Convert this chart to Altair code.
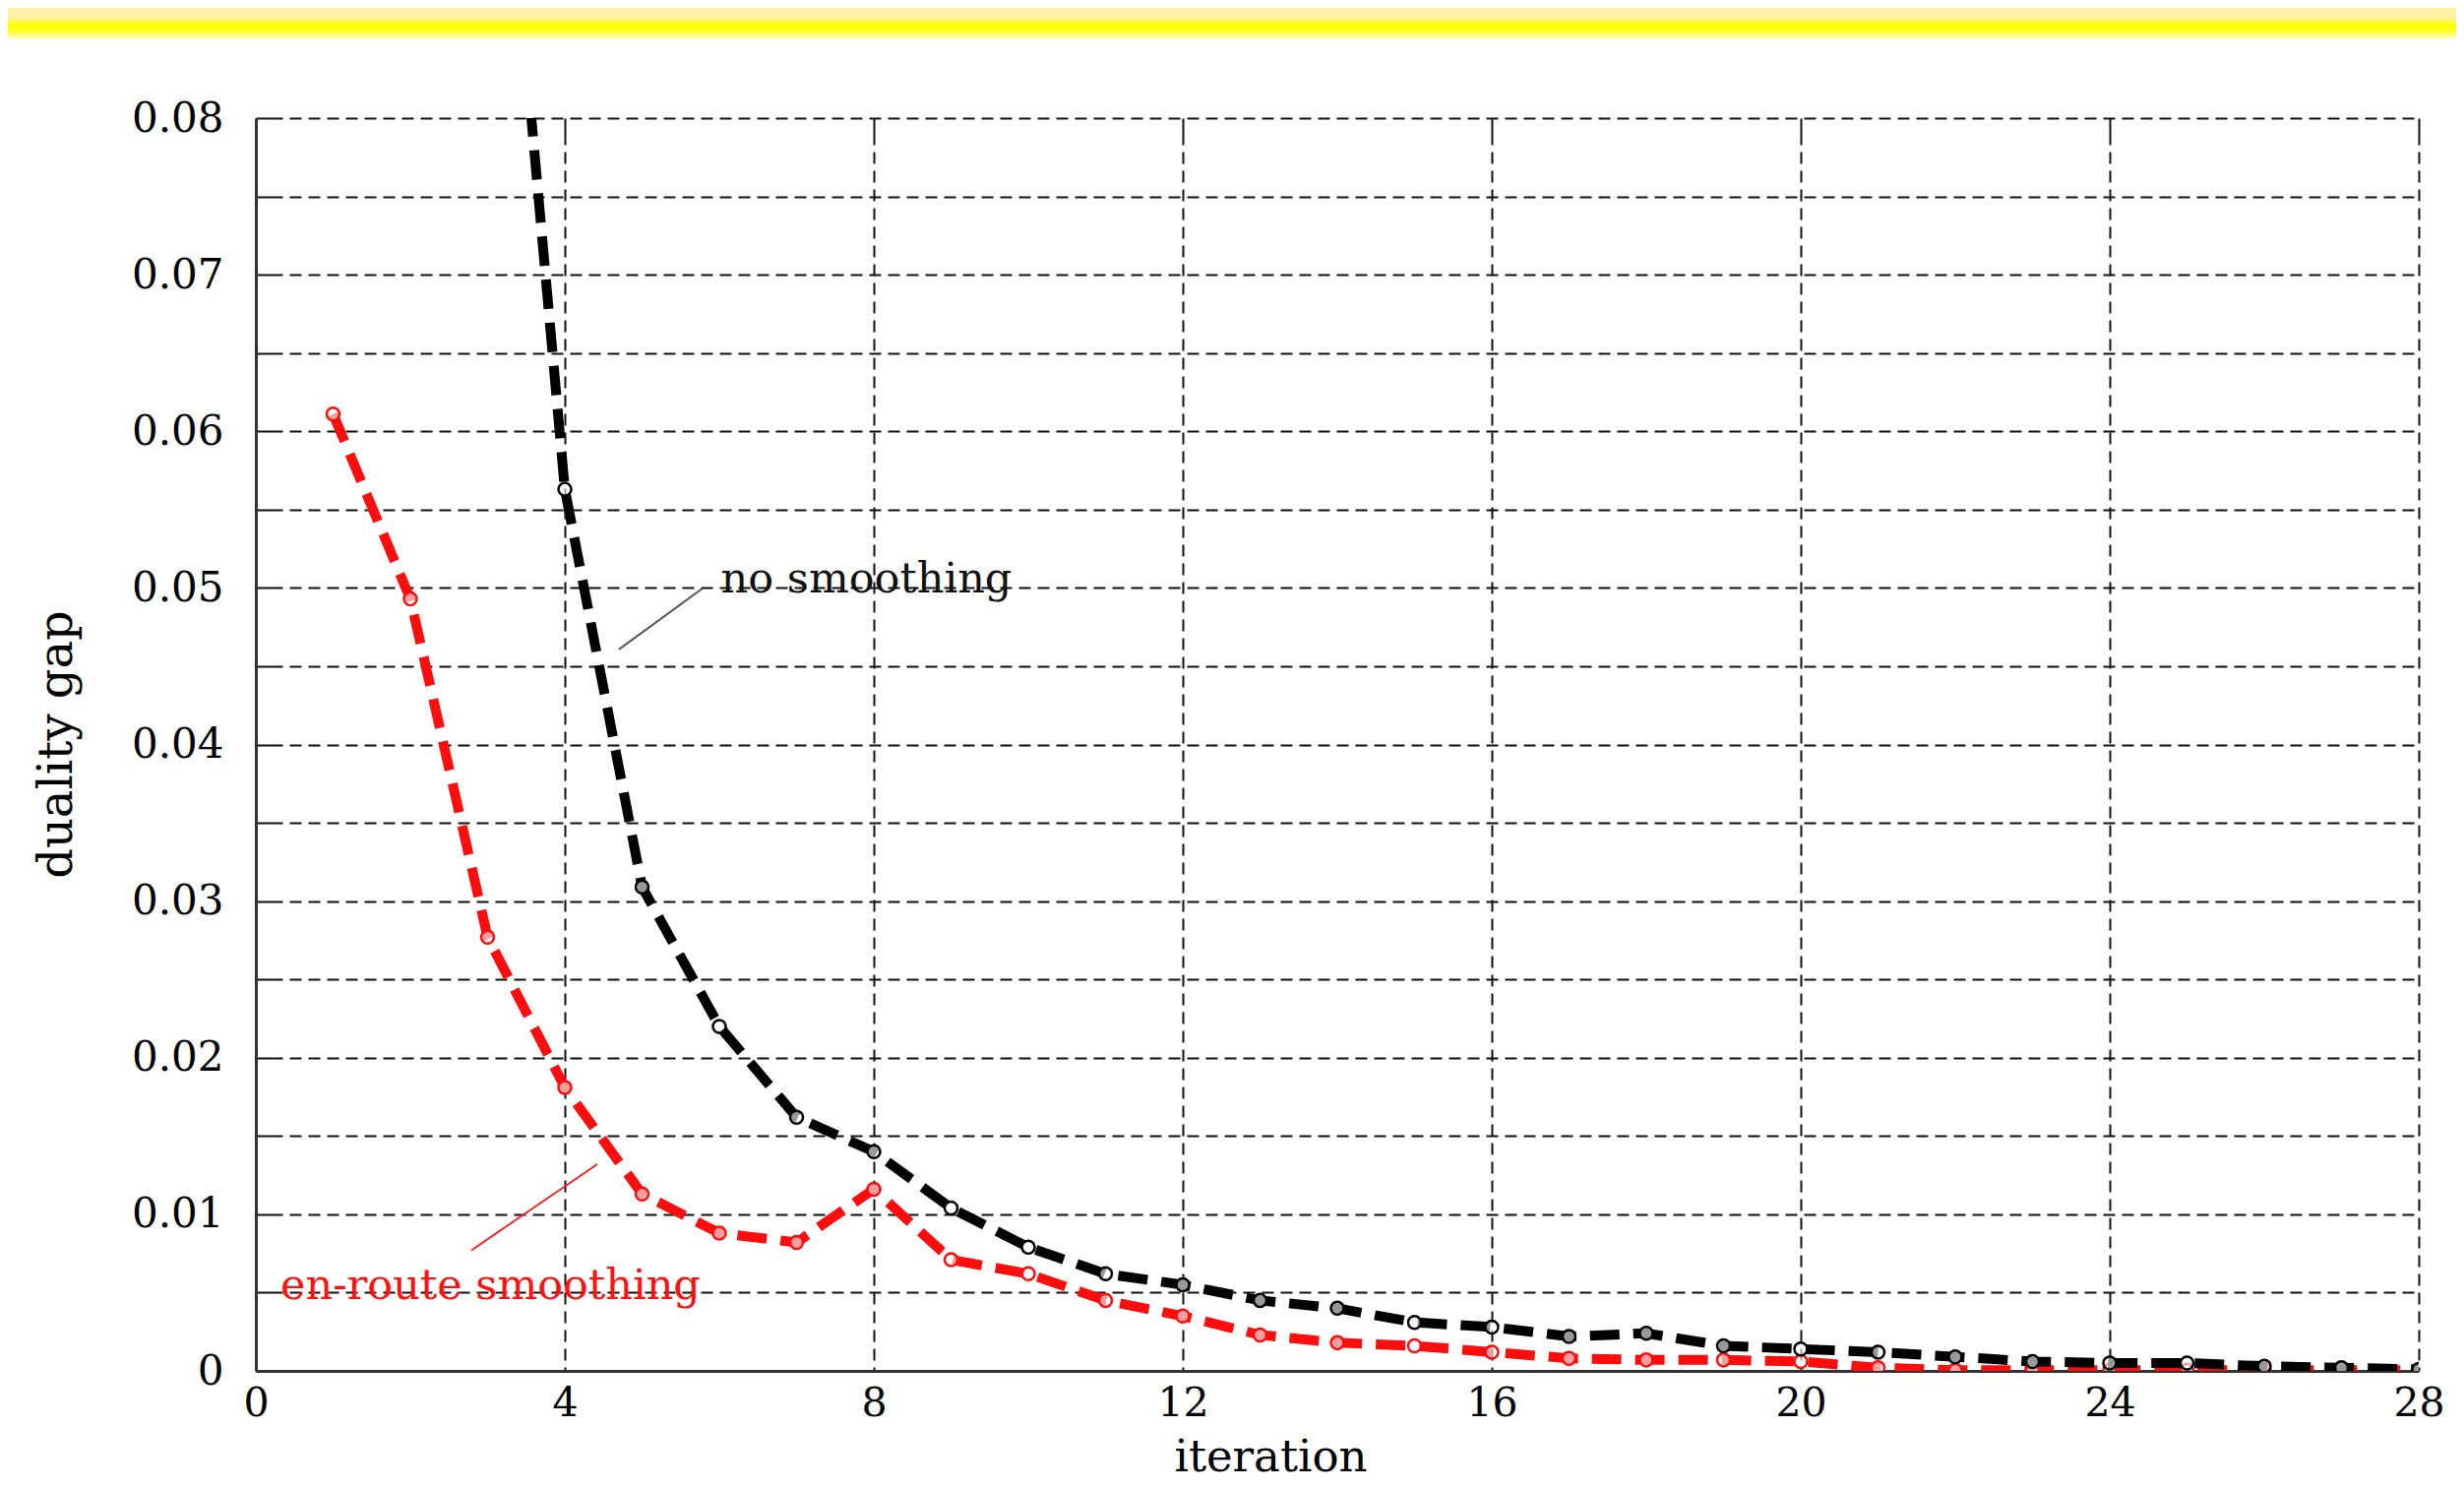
import altair as alt
import pandas as pd

# ---- data ----
en_route_iter = list(range(1, 29))
en_route_gap = [0.0611, 0.0493, 0.0277, 0.0181, 0.0113, 0.0088, 0.0082, 0.0116,
                0.0071, 0.0062, 0.0045, 0.0035, 0.0023, 0.0018, 0.0016, 0.0012,
                0.0008, 0.0007, 0.0007, 0.0006, 0.0002, 0.00005, 0.00005, 0.00005,
                0.00005, 0.00005, 0.00005, 0.00005]
no_smooth_iter = list(range(3, 29))
no_smooth_gap = [0.111, 0.0563, 0.0309, 0.0220, 0.0162, 0.0140, 0.0104, 0.0079,
                 0.0062, 0.0055, 0.0045, 0.0040, 0.0031, 0.0028, 0.0022, 0.0024,
                 0.0016, 0.0014, 0.0012, 0.0009, 0.0006, 0.0005, 0.0005, 0.0003,
                 0.0002, 0.0001]

x_ticks = [0, 4, 8, 12, 16, 20, 24, 28]
y_ticks = [i * 0.005 for i in range(17)]

label_text = ["no smoothing", "en-route smoothing"]
label_iter = [6.02, 0.32]
label_gap = [0.0497, 0.0046]
label_color = ["#111111", "#ff1010"]

leader_iter = [5.78, 4.42]
leader_gap = [0.04996, 0.0132]
leader_iter2 = [4.70, 2.79]
leader_gap2 = [0.04607, 0.0077]
leader_color = ["#555555", "#ff2020"]

FONT = "DejaVu Serif"
RED = "#ff0d0d"
BLACK = "#000000"

red_df = pd.DataFrame({"iteration": en_route_iter, "gap": en_route_gap})
blk_df = pd.DataFrame({"iteration": no_smooth_iter, "gap": no_smooth_gap})
lab_df = pd.DataFrame({"iteration": label_iter, "gap": label_gap,
                       "text": label_text, "c": label_color})
lead_df = pd.DataFrame({"iteration": leader_iter, "gap": leader_gap,
                        "iteration2": leader_iter2, "gap2": leader_gap2,
                        "c": leader_color})

# grid dash: solid inward "tick" segment first, then short dashes
grid_dash = [27, 7] + [12, 7] * 200

x_enc = alt.X("iteration:Q",
              scale=alt.Scale(domain=[0, 28], nice=False, zero=False),
              axis=alt.Axis(values=x_ticks, format="d", title="iteration",
                            grid=True, gridDash=grid_dash, gridColor="#111111",
                            gridWidth=2, ticks=False, tickSize=0,
                            domainColor="#333333", domainWidth=3,
                            labelFont=FONT, labelFontSize=41, labelColor="#000000",
                            labelPadding=13, labelFlush=False,
                            titleFont=FONT, titleFontSize=45, titleFontWeight="normal",
                            titleColor="#000000", titleX=1031, titleY=101,
                            titleAlign="center", titleBaseline="alphabetic"))
y_enc = alt.Y("gap:Q",
              scale=alt.Scale(domain=[0, 0.08], nice=False, zero=True),
              axis=alt.Axis(values=y_ticks, title="duality gap",
                            labelExpr="datum.value == 0 ? '0' : (round(datum.value*1000) % 10 == 0 ? format(datum.value, '.2f') : '')",
                            grid=True, gridDash=grid_dash, gridColor="#111111",
                            gridWidth=2, ticks=False, tickSize=0,
                            domainColor="#333333", domainWidth=3,
                            labelFont=FONT, labelFontSize=42, labelColor="#000000",
                            labelPadding=33, labelFlush=False,
                            titleFont=FONT, titleFontSize=48, titleFontWeight="normal",
                            titleColor="#000000", titleX=-188, titleY=636,
                            titleAngle=270, titleAlign="center",
                            titleBaseline="alphabetic"))

band = alt.Chart(pd.DataFrame({"k": [0]})).mark_rect(
    clip=False,
    color=alt.LinearGradient(
        gradient="linear", x1=0, x2=0, y1=0, y2=1,
        stops=[alt.GradientStop(color="#fff2a6", offset=0),
               alt.GradientStop(color="#fff2a6", offset=0.30),
               alt.GradientStop(color="#ffff00", offset=0.55),
               alt.GradientStop(color="#ffff30", offset=0.75),
               alt.GradientStop(color="#fffbd8", offset=1)])
).encode(x=alt.value(-252), x2=alt.value(2236), y=alt.value(-112), y2=alt.value(-80))

red_line = alt.Chart(red_df).mark_line(
    color=RED, strokeWidth=10, strokeDash=[30, 14], clip=True
).encode(x=x_enc, y=y_enc)
red_pts = alt.Chart(red_df).mark_point(
    shape="circle", filled=False, color=RED, size=170, strokeWidth=2.5,
    fill="white", fillOpacity=0.6, clip=True
).encode(x=x_enc, y=y_enc)

blk_line = alt.Chart(blk_df).mark_line(
    color=BLACK, strokeWidth=10, strokeDash=[30, 14], clip=True
).encode(x=x_enc, y=y_enc)
blk_pts = alt.Chart(blk_df).mark_point(
    shape="circle", filled=False, color=BLACK, size=170, strokeWidth=2.5,
    fill="white", fillOpacity=0.6, clip=True
).encode(x=x_enc, y=y_enc)

leaders = alt.Chart(lead_df).mark_rule(strokeWidth=2).encode(
    x=x_enc, y=y_enc, x2="iteration2:Q", y2="gap2:Q",
    color=alt.Color("c:N", scale=None))

labels = alt.Chart(lab_df).mark_text(
    align="left", baseline="alphabetic", font=FONT, fontSize=43
).encode(x=x_enc, y=y_enc, text="text:N", color=alt.Color("c:N", scale=None))

chart = alt.layer(band, red_line, red_pts, blk_line, blk_pts, leaders, labels).properties(
    width=2198, height=1273,
    padding={"left": 252, "top": 112, "right": 38, "bottom": 112},
    autosize=alt.AutoSizeParams(type="none"),
    background="white"
).configure_view(stroke=None)

chart.save("out.html", embed_options={"renderer": "svg", "actions": False})
